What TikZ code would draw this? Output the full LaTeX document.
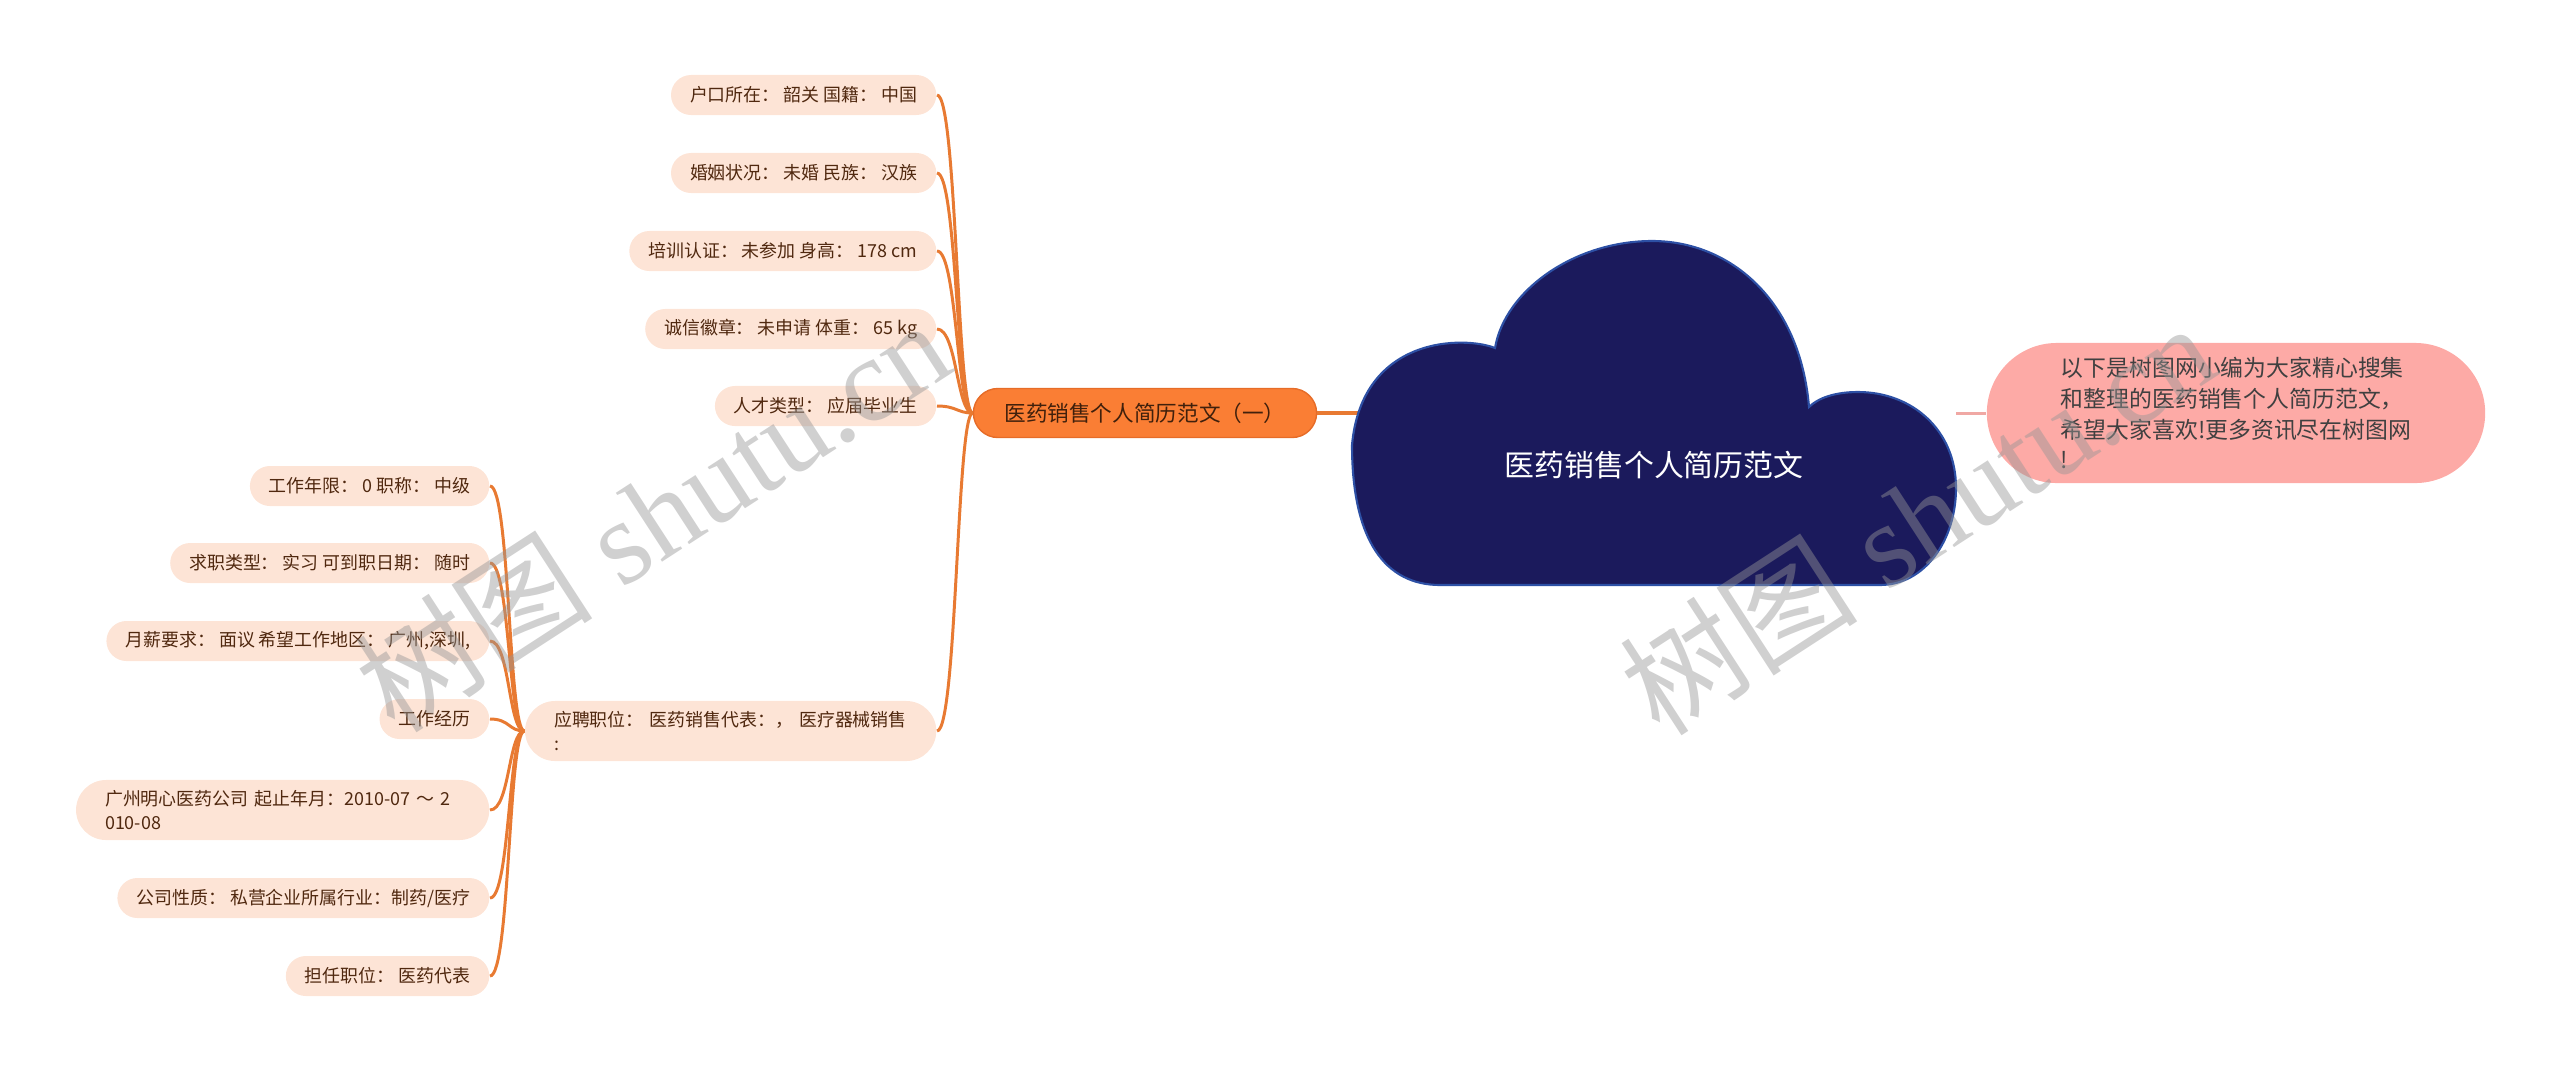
\documentclass[tikz,border=0pt]{standalone}
\usepackage{fontspec}
\setmainfont{Noto Sans CJK SC}
\newfontfamily\wmlatin{Liberation Serif}
\usetikzlibrary{positioning,calc}
\definecolor{leafbg}{RGB}{253,228,214}
\definecolor{leaftext}{RGB}{80,40,15}
\definecolor{linkorange}{RGB}{232,122,50}
\definecolor{mainfill}{RGB}{250,126,52}
\definecolor{maindraw}{RGB}{230,108,40}
\definecolor{cloudfill}{RGB}{27,26,92}
\definecolor{clouddraw}{RGB}{45,80,165}
\definecolor{notefill}{RGB}{253,170,166}
\definecolor{notelink}{RGB}{240,168,164}
\definecolor{wmgray}{RGB}{150,150,150}

\begin{document}
\begin{tikzpicture}[x=0.01cm,y=-0.01cm,
  leaf/.style={fill=leafbg,text=leaftext,rounded corners=2mm,minimum height=4mm,
    inner xsep=1.9mm,inner ysep=0pt,anchor=east,font=\fontsize{5.1pt}{6.6pt}\selectfont},
  leafwide/.style={leaf,align=left,text width=3.55cm,inner xsep=2.9mm,minimum height=6mm,rounded corners=3mm},
  link/.style={draw=linkorange,line width=0.85pt},
  wm/.style={text=wmgray,opacity=0.45,font=\fontsize{34pt}{34pt}\selectfont}]
\useasboundingbox (0,0) rectangle (2560,1072);
% first level, right of the cloud
\node[fill=mainfill,draw=maindraw,line width=0.4pt,text=leaftext!80!black,
  rounded corners=2.45mm,minimum height=4.9mm,inner xsep=3.1mm,inner ysep=0pt,
  font=\fontsize{6.15pt}{7pt}\selectfont] (main) at (1145,413) {医药销售个人简历范文（一）};
\node[fill=notefill,text=black!75,rounded corners=7mm,minimum height=14mm,
  inner xsep=7.4mm,inner ysep=0pt,align=left,
  font=\fontsize{6.5pt}{8.8pt}\selectfont] (note) at (2236,413)
  {以下是树图网小编为大家精心搜集\\和整理的医药销售个人简历范文，\\希望大家喜欢!更多资讯尽在树图网\\!};
% basic facts
\node[leaf] (hukou) at (937,95) {户口所在： 韶关 国籍： 中国};
\node[leaf] (hunyin) at (937,173) {婚姻状况： 未婚 民族： 汉族};
\node[leaf] (peixun) at (937,251) {培训认证： 未参加 身高： 178 cm};
\node[leaf] (chengxin) at (937,329) {诚信徽章： 未申请 体重： 65 kg};
\node[leaf] (rencai) at (937,406) {人才类型： 应届毕业生};
\node[leafwide,text width=3.53cm] (yingpin) at (937,731) {应聘职位： 医药销售代表：， 医疗器械销售\\:};
% work details
\node[leaf] (nianxian) at (490,486) {工作年限： 0 职称： 中级};
\node[leaf] (qiuzhi) at (490,563) {求职类型： 实习 可到职日期： 随时};
\node[leaf] (yuexin) at (490,641) {月薪要求： 面议 希望工作地区： 广州,深圳,};
\node[leaf] (jingli) at (490,719) {工作经历};
\node[leafwide] (gongsi) at (490,810) {广州明心医药公司 起止年月：2010-07 ～ 2\\010-08};
\node[leaf] (xingzhi) at (490,898) {公司性质： 私营企业所属行业：制药/医疗};
\node[leaf] (danren) at (490,976) {担任职位： 医药代表};
% connectors
\foreach \n in {hukou,hunyin,peixun,chengxin,rencai,yingpin}
  {\draw[link] (\n.east) .. controls +(20,0) and +(-16,0) .. (main.west);}
\foreach \n in {nianxian,qiuzhi,yuexin,jingli,gongsi,xingzhi,danren}
  {\draw[link] (\n.east) .. controls +(20,0) and +(-16,0) .. (yingpin.west);}
\coordinate (cloudL) at (1380,413);
\coordinate (cloudR) at (1956,413);
\draw[link,line width=1.1pt] (main.east) -- (cloudL);
\draw[draw=notelink,line width=0.85pt] (cloudR) -- (note.west);
% cloud
\draw[fill=cloudfill,draw=clouddraw,line width=0.6pt]
  (1440,585) -- (1880,585)
  .. controls (1925,585) and (1956,540) .. (1956,488)
  .. controls (1956,430) and (1912,392) .. (1858,392)
  .. controls (1835,392) and (1818,398) .. (1809,407)
  .. controls (1800,300) and (1730,241) .. (1652,241)
  .. controls (1575,241) and (1505,290) .. (1495,348)
  .. controls (1465,336) and (1362,335) .. (1352,445)
  .. controls (1352,540) and (1385,585) .. (1440,585) -- cycle;
\node[text=white,font=\fontsize{8.5pt}{10pt}\selectfont] (root) at (1654,465) {医药销售个人简历范文};
% watermarks
\node[wm,rotate=33] (wmA) at (652,515) {树图{\wmlatin\ shutu.cn}};
\node[wm,rotate=33] (wmB) at (1917,518) {树图{\wmlatin\ shutu.cn}};
\end{tikzpicture}
\end{document}
